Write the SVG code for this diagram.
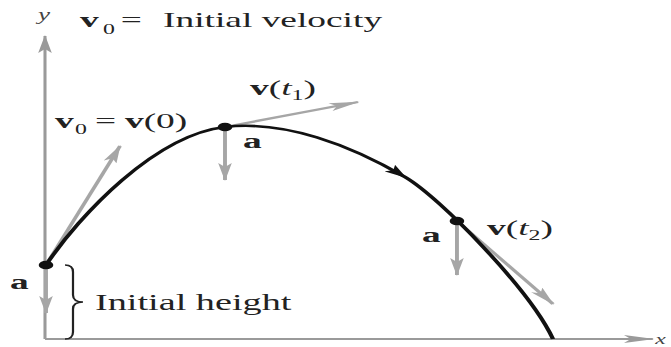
<svg xmlns="http://www.w3.org/2000/svg" width="671" height="347" viewBox="0 0 671 347">
<defs>
<style>
.t{font-family:"Liberation Serif","Times New Roman",serif;font-size:22px;fill:#222}
.b{font-weight:bold}
.i{font-style:italic}
.s{font-size:14px}
.ax{fill:none;stroke:#9a9a9a;stroke-width:1.8}
.vec{fill:none;stroke:#a6a6a6;stroke-width:2.3}
.crv{fill:none;stroke:#111;stroke-width:2.6}
</style>
<marker id="axh" viewBox="0 0 18 8" markerWidth="18" markerHeight="8" refX="17" refY="4" orient="auto" markerUnits="userSpaceOnUse"><path d="M0,0 L18,4 L0,8 L4,4 z" fill="#9a9a9a"/></marker>
<marker id="gh" viewBox="0 0 18 8" markerWidth="18" markerHeight="8" refX="17" refY="4" orient="auto" markerUnits="userSpaceOnUse"><path d="M0,0 L18,4 L0,8 L4,4 z" fill="#a6a6a6"/></marker>
<marker id="bh" viewBox="0 0 14 9" markerWidth="14" markerHeight="9" refX="13" refY="4.5" orient="auto" markerUnits="userSpaceOnUse"><path d="M0,0 L14,4.5 L0,9 L3,4.5 z" fill="#111"/></marker>
</defs>
<rect width="671" height="347" fill="#fff"/>
<g transform="scale(1.7,1)">
<g id="axes">
<path class="ax" d="M26.47,339 L26.47,36" marker-end="url(#axh)"/>
<path class="ax" d="M26.47,339 L384,339" marker-end="url(#axh)"/>
<text class="t i" x="22.35" y="20" style="font-size:16px;fill:#444">y</text>
<text class="t i" x="385.5" y="344" style="font-size:14px;fill:#444">x</text>
</g>
<g id="connectors">
<path class="vec" d="M27.06,265 L70.59,146" marker-end="url(#gh)"/>
<path class="vec" d="M27.06,265 L27.06,313" marker-end="url(#gh)"/>
<path class="vec" d="M132.35,127 L132.35,180" marker-end="url(#gh)"/>
<path class="vec" d="M132.35,127 L210.59,102" marker-end="url(#gh)"/>
<path class="vec" d="M268.8,221 L268.8,275" marker-end="url(#gh)"/>
<path class="vec" d="M268.8,221 L325.3,304" marker-end="url(#gh)"/>
</g>
<g id="trajectory">
<path class="crv" d="M27.06,265 C47.06,215 91.18,135 132.35,127 C167.65,120 205.88,145 238.24,177 C258.82,197.4 311.76,290 325.29,339"/>
<path d="M232.5,171.3 L238.5,177.2" fill="none" stroke="none" marker-end="url(#bh)"/>
</g>
<g id="brace">
<path d="M38.24,265 Q42.94,265 42.94,272 L42.94,295 Q42.94,302 48.82,302 Q42.94,302 42.94,309 L42.94,332 Q42.94,339 38.24,339" fill="none" stroke="#222" stroke-width="1.3"/>
<text class="t" x="55.9" y="310" style="font-size:22.5px">Initial height</text>
</g>
<g id="p0">
<circle cx="27.06" cy="265" r="4.3" fill="#111"/>
<text class="t b" x="5.9" y="289">a</text>
<text class="t" x="32.35" y="128"><tspan class="b">v</tspan><tspan class="s" x="44.1" y="134">0</tspan><tspan x="55.9" y="128">=</tspan><tspan class="b" x="73.5" y="128">v</tspan>(0)</text>
</g>
<g id="p1">
<circle cx="132.35" cy="127" r="4.3" fill="#111"/>
<text class="t b" x="142.9" y="148">a</text>
<text class="t" x="147.06" y="95"><tspan class="b">v</tspan>(<tspan class="i">t</tspan><tspan class="s" dy="5">1</tspan><tspan dy="-5">)</tspan></text>
</g>
<g id="p2">
<circle cx="268.8" cy="221" r="4.3" fill="#111"/>
<text class="t b" x="248.2" y="242">a</text>
<text class="t" x="286.5" y="235"><tspan class="b">v</tspan>(<tspan class="i">t</tspan><tspan class="s" dy="5">2</tspan><tspan dy="-5">)</tspan></text>
</g>
<g id="title">
<text class="t" x="47.06" y="27"><tspan class="b">v</tspan><tspan class="s" x="60.6" y="34">0</tspan><tspan x="71" y="27">=</tspan><tspan x="95.9" y="27">Initial velocity</tspan></text>
</g>
</g>
</svg>
